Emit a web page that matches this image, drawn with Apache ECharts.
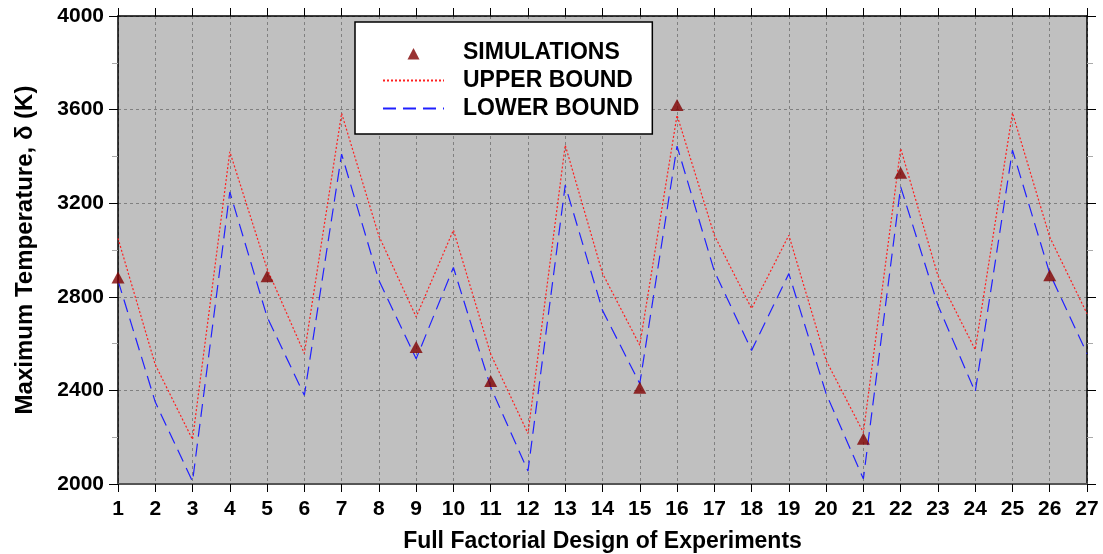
<!DOCTYPE html>
<html><head><meta charset="utf-8">
<script src="https://cdn.jsdelivr.net/npm/echarts@6/dist/echarts.min.js"></script>
<style>html,body{margin:0;padding:0;background:#fff}#c{width:1103px;height:554px}</style>
</head><body><div id="c"></div>
<script>
const experiments = [1,2,3,4,5,6,7,8,9,10,11,12,13,14,15,16,17,18,19,20,21,22,23,24,25,26,27];
const upperBound = [3050,2510,2190,3420,2920,2558,3584,3060,2714,3085,2555,2216,3448,2900,2593,3576,3063,2750,3063,2528,2220,3434,2890,2574,3586,3055,2728];
const lowerBound = [2870,2350,2011,3248,2714,2379,3410,2870,2535,2925,2414,2055,3277,2742,2429,3444,2910,2571,2899,2386,2022,3270,2764,2393,3427,2900,2557];
const simX = [1,5,9,11,15,16,21,22,26];
const simY = [2882,2888,2585,2440,2411,3620,2193,3330,2892];
const yTicks = [2000,2400,2800,3200,3600,4000];

const font = 'Liberation Sans, Arial, sans-serif';
const chart = echarts.init(document.getElementById('c'));
const zip = (a,b) => a.map((v,i)=>[v,b[i]]);
const hidden = {color:'rgba(0,0,0,0)',borderColor:'rgba(0,0,0,0)',borderWidth:0};
chart.setOption({
  animation:false,
  grid:{left:118,right:16,top:16,bottom:70,show:true,backgroundColor:'#c0c0c0',borderWidth:0,
        outerBoundsMode:'none',containLabel:false},
  legend:{
    orient:'vertical', left:355, top:22,
    backgroundColor:'#fff', borderColor:'#000', borderWidth:1.5, borderRadius:0,
    padding:[19,13,14,27], itemGap:5, itemWidth:61, itemHeight:16, symbolKeepAspect:true,
    textStyle:{fontFamily:font,fontWeight:'bold',fontSize:23,color:'#000',padding:[0,0,0,14]},
    data:[
      {name:'SIMULATIONS',icon:'path://M0,0 M16,16 M2,15 L8,3.5 L14,15 Z',itemStyle:{color:'#800000'}},
      {name:'UPPER BOUND',itemStyle:hidden},
      {name:'LOWER BOUND',itemStyle:hidden}
    ]
  },
  xAxis:[{
    type:'value', min:1, max:27, interval:1,
    axisLine:{lineStyle:{color:'#555',width:2}},
    axisTick:{show:true,length:8,lineStyle:{color:'#000'}},
    axisLabel:{fontFamily:font,fontWeight:'bold',fontSize:21,color:'#000',margin:15},
    splitLine:{show:true,lineStyle:{color:'#808080',type:[3,3]}},
    name:'Full Factorial Design of Experiments', nameLocation:'middle', nameGap:46,
    nameTextStyle:{fontFamily:font,fontWeight:'bold',fontSize:23,color:'#000'}
  },{
    type:'value', min:1, max:27, interval:1, position:'top',
    axisLine:{show:true,lineStyle:{color:'#000',width:1.5}},
    axisTick:{show:true,length:8,lineStyle:{color:'#000'}},
    axisLabel:{show:false}, splitLine:{show:false}
  }],
  yAxis:[{
    type:'value', min:2000, max:4000, interval:400,
    axisLine:{show:true,lineStyle:{color:'#000',width:1.5}},
    axisTick:{show:true,length:9,lineStyle:{color:'#000'}},
    minorTick:{show:true,splitNumber:2,length:6,lineStyle:{color:'#aaa'}},
    axisLabel:{fontFamily:font,fontWeight:'bold',fontSize:21,color:'#000',margin:14,
      formatter:v=>yTicks.includes(v)?String(v):''},
    splitLine:{show:true,lineStyle:{color:'#808080',type:[3,3]}},
    name:'Maximum Temperature, δ (K)', nameLocation:'middle', nameGap:81,
    nameTextStyle:{fontFamily:font,fontWeight:'bold',fontSize:24,color:'#000'}
  },{
    type:'value', min:2000, max:4000, interval:400, position:'right',
    axisLine:{show:true,lineStyle:{color:'#000',width:1.5}},
    axisTick:{show:true,length:9,lineStyle:{color:'#000'}},
    minorTick:{show:true,splitNumber:2,length:6,lineStyle:{color:'#aaa'}},
    axisLabel:{show:false}, splitLine:{show:false}
  }],
  series:[
    {name:'SIMULATIONS',type:'scatter',symbol:'triangle',symbolSize:[13,12],
     itemStyle:{color:'#800000'},data:zip(simX,simY),z:5},
    {name:'UPPER BOUND',type:'line',symbol:'none',showSymbol:false,
     lineStyle:{color:'#ff2020',width:1.2,type:[2,2]},itemStyle:{color:'#ff2020'},
     data:zip(experiments,upperBound)},
    {name:'LOWER BOUND',type:'line',symbol:'none',showSymbol:false,
     lineStyle:{color:'#2020ff',width:1.2,type:[13,7]},itemStyle:{color:'#2020ff'},
     data:zip(experiments,lowerBound)}
  ]
});
</script></body></html>
